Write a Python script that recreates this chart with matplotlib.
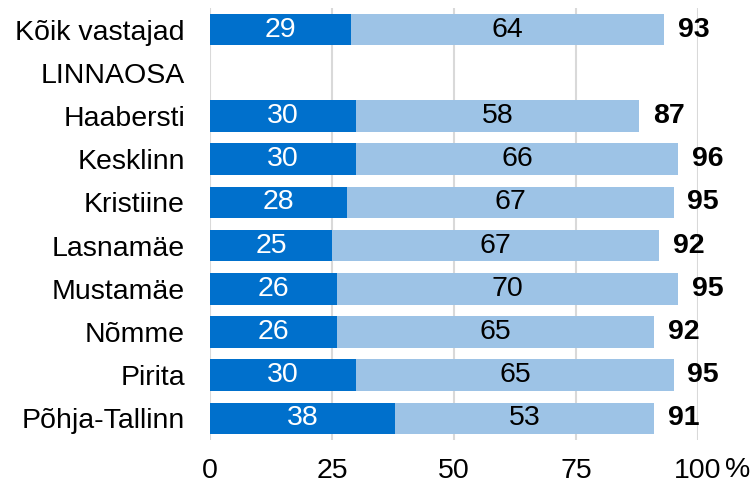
import numpy as np
import matplotlib.pyplot as plt

plt.rcParams['font.family'] = ['Liberation Sans', 'DejaVu Sans']

categories = ['Kõik vastajad', 'LINNAOSA', 'Haabersti', 'Kesklinn', 'Kristiine',
              'Lasnamäe', 'Mustamäe', 'Nõmme', 'Pirita', 'Põhja-Tallinn']
dark_vals = [29, None, 30, 30, 28, 25, 26, 26, 30, 38]
light_vals = [64, None, 58, 66, 67, 67, 70, 65, 65, 53]
totals = [93, None, 87, 96, 95, 92, 95, 92, 95, 91]
xticks = [0, 25, 50, 75, 100]

dark_col = '#0070CC'
light_col = '#9DC3E6'

fig = plt.figure(figsize=(7.51, 4.88), dpi=100)
ax = fig.add_axes([0.2796, 0.0984, 0.6498, 0.8852])

y = np.arange(len(categories))
for i in range(len(categories)):
    if dark_vals[i] is None:
        continue
    d = dark_vals[i]
    l = light_vals[i]
    ax.barh(y[i], d, height=0.73, color=dark_col, zorder=3)
    ax.barh(y[i], l, left=d, height=0.73, color=light_col, zorder=3)
    ax.text(d / 2, y[i], str(d), ha='center', va='center', color='white',
            fontsize=20.5, zorder=4)
    ax.text(d + l / 2, y[i], str(l), ha='center', va='center', color='black',
            fontsize=20.5, zorder=4)
    ax.annotate(str(totals[i]), xy=(d + l, y[i]), xytext=(10, 0),
                textcoords='offset points', ha='left', va='center',
                fontsize=20.5, fontweight='bold')

ax.set_xlim(0, 100)
ax.set_ylim(len(categories) - 0.5, -0.5)
ax.set_yticks(y)
ax.set_yticklabels(categories, fontsize=20.5)
ax.set_xticks(xticks)
ax.set_xticklabels([str(t) for t in xticks], fontsize=20.5)
ax.tick_params(axis='both', length=0)
ax.tick_params(axis='y', pad=18)
ax.tick_params(axis='x', pad=13)
for s in ax.spines.values():
    s.set_visible(False)
ax.grid(axis='x', color='#D9D9D9', linewidth=1.5, zorder=0)
ax.set_axisbelow(True)

# percent sign after the last tick label
ax.annotate('%', xy=(1, 0), xycoords='axes fraction', xytext=(19.5, -21.5),
            textcoords='offset points', ha='left', va='center', fontsize=20.5)

fig.savefig('out.png', dpi=100)
